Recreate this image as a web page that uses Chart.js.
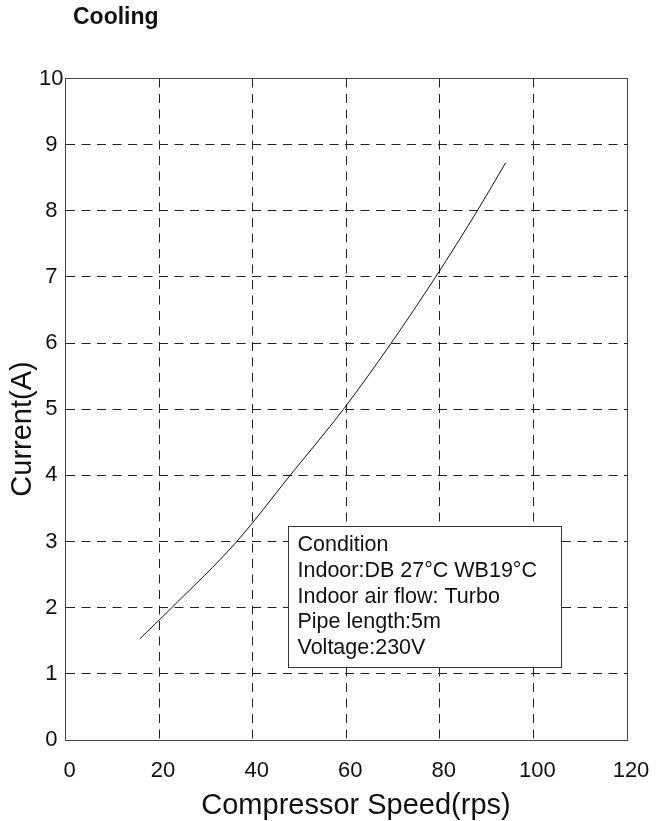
<!DOCTYPE html>
<html lang="en">
<head>
<meta charset="utf-8">
<title>Cooling · Current vs Compressor Speed</title>
<script src="https://cdn.jsdelivr.net/npm/chart.js@4.4.1/dist/chart.umd.min.js"></script>
<style>
  html, body { margin: 0; padding: 0; background: #fff; }
  .wrap { position: relative; width: 656px; height: 821px; }
</style>
</head>
<body>
<div class="wrap"><canvas id="ch-cooling"></canvas></div>
<script>
/* ============================================
   Cooling — corriente vs velocidad compresor
   ============================================ */

// ── Datos ────────────────────────────────────────────────────────────────────
const SPEED_RPS = [15.9, 22.7, 36.6, 48, 59.4, 69.6, 79.1, 88, 94.1];
const CURRENT_A = [1.53, 2, 3, 4, 5, 6, 7, 8, 8.73];

const X_TICKS = [0, 20, 40, 60, 80, 100, 120];
const Y_TICKS = [0, 1, 2, 3, 4, 5, 6, 7, 8, 9, 10];

const TITLE   = 'Cooling';
const X_TITLE = 'Compressor Speed(rps)';
const Y_TITLE = 'Current(A)';
const CONDITION = [
  'Condition',
  'Indoor:DB 27°C WB19°C',
  'Indoor air flow: Turbo',
  'Pipe length:5m',
  'Voltage:230V',
];

const FONT = '"Liberation Sans", Arial, Helvetica, sans-serif';
const INK  = '#111';

const align = p => Math.round(p - 0.5) + 0.5;

// Marco, títulos y recuadro de condiciones
const decor = {
  id: 'decor',
  afterDraw(chart) {
    const { ctx, scales: { x, y } } = chart;
    ctx.save();

    // marco completo (arriba y derecha sólidos)
    const l = align(x.getPixelForValue(X_TICKS[0]));
    const r = align(x.getPixelForValue(X_TICKS[X_TICKS.length - 1]));
    const t = align(y.getPixelForValue(Y_TICKS[Y_TICKS.length - 1]));
    const b = align(y.getPixelForValue(Y_TICKS[0]));
    ctx.setLineDash([]);
    ctx.lineWidth = 1;
    ctx.strokeStyle = '#444';
    ctx.strokeRect(l, t, r - l, b - t);

    ctx.fillStyle = INK;
    ctx.textBaseline = 'alphabetic';

    // título
    ctx.font = `bold 23px ${FONT}`;
    ctx.textAlign = 'left';
    ctx.fillText(TITLE, 73, 24);

    // eje X
    ctx.font = `29px ${FONT}`;
    ctx.textAlign = 'center';
    ctx.fillText(X_TITLE, 356, 814);

    // eje Y
    ctx.save();
    ctx.translate(31, 429);
    ctx.rotate(-Math.PI / 2);
    ctx.fillText(Y_TITLE, 0, 0);
    ctx.restore();

    // recuadro de condiciones
    const bl = align(x.getPixelForValue(47.6));
    const br = align(x.getPixelForValue(105.9));
    const bt = align(y.getPixelForValue(3.22));
    const bb = align(y.getPixelForValue(1.09));
    ctx.fillStyle = '#fff';
    ctx.fillRect(bl, bt, br - bl, bb - bt);
    ctx.strokeStyle = '#333';
    ctx.strokeRect(bl, bt, br - bl, bb - bt);

    ctx.fillStyle = INK;
    ctx.font = `21.5px ${FONT}`;
    ctx.textAlign = 'left';
    CONDITION.forEach((line, i) => {
      ctx.fillText(line, bl + 9, bt + 24.5 + i * 25.8);
    });

    ctx.restore();
  },
};

const gridOpts = {
  display: true,
  drawTicks: false,
  color: '#222',
  lineWidth: 1,
};
const borderOpts = { display: true, color: '#444', width: 1, dash: [9, 6.5] };

new Chart(document.getElementById('ch-cooling'), {
  type: 'scatter',
  data: {
    datasets: [{
      label: 'Current',
      data: SPEED_RPS.map((s, i) => ({ x: s, y: CURRENT_A[i] })),
      showLine: true,
      borderColor: '#111',
      borderWidth: 1,
      pointRadius: 0,
      cubicInterpolationMode: 'monotone',
      fill: false,
    }],
  },
  options: {
    responsive: true,
    maintainAspectRatio: false,
    animation: false,
    layout: { padding: { left: 0, top: 78.5, right: 29, bottom: 0 } },
    plugins: {
      legend: { display: false },
      tooltip: { enabled: false },
    },
    scales: {
      x: {
        type: 'linear',
        min: X_TICKS[0],
        max: X_TICKS[X_TICKS.length - 1],
        afterBuildTicks: s => { s.ticks = X_TICKS.map(v => ({ value: v })); },
        afterFit: s => { s.height = 81; s.paddingLeft = 0; s.paddingRight = 0; },
        grid: gridOpts,
        border: borderOpts,
        ticks: {
          color: INK,
          font: { family: FONT, size: 22 },
          padding: 17.3,
          labelOffset: 4,
          maxRotation: 0,
        },
      },
      y: {
        type: 'linear',
        min: Y_TICKS[0],
        max: Y_TICKS[Y_TICKS.length - 1],
        afterBuildTicks: s => { s.ticks = Y_TICKS.map(v => ({ value: v })); },
        afterFit: s => { s.width = 65.5; s.paddingTop = 0; s.paddingBottom = 0; },
        grid: gridOpts,
        border: borderOpts,
        ticks: {
          color: INK,
          font: { family: FONT, size: 22 },
          padding: 2,
          crossAlign: 'center',
        },
      },
    },
  },
  plugins: [decor],
});
</script>
</body>
</html>
